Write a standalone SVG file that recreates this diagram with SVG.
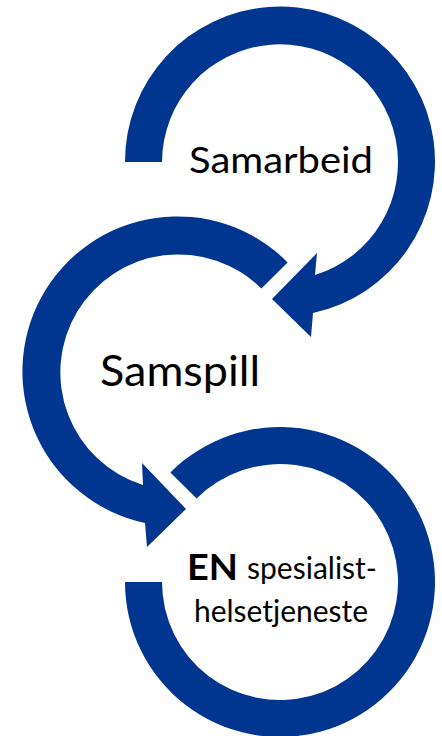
<svg xmlns="http://www.w3.org/2000/svg" width="442" height="736" viewBox="0 0 442 736">
  <style>
    .arc { fill: #00368F; stroke: none; }
    .lbl { font-family: Lato, "Open Sans", "Liberation Sans", sans-serif; fill: #000000; }
  </style>
  <rect width="442" height="736" fill="#FFFFFF"/>
  <g id="node-samarbeid">
    <path class="arc" d="M 125 162 A 155 155 0 1 1 313 313 L 311 337 L 272 299 L 317 253 L 315 275 A 118 118 0 1 0 162 162 Z"/>
    <text class="lbl" x="189" y="173" font-size="37" textLength="184" lengthAdjust="spacingAndGlyphs">Samarbeid</text>
  </g>
  <g id="node-samspill">
    <path class="arc" d="M 287.6 262.4 A 155 155 0 1 0 145 523 L 147 547 L 186 509 L 142 463 L 143 485 A 118 118 0 1 1 261.4 288.6 Z"/>
    <text class="lbl" x="100" y="386" font-size="42" textLength="160" lengthAdjust="spacingAndGlyphs">Samspill</text>
  </g>
  <g id="node-en-spesialisthelsetjeneste">
    <path class="arc" d="M 170.4 472.4 A 155 155 0 1 1 125 582 L 162 582 A 118 118 0 1 0 196.6 498.6 Z"/>
    <text class="lbl" x="187" y="580" font-size="37" font-weight="bold" textLength="51" lengthAdjust="spacingAndGlyphs">EN</text>
    <text class="lbl" x="247" y="579" font-size="30" textLength="130" lengthAdjust="spacingAndGlyphs">spesialist-</text>
    <text class="lbl" x="194" y="622" font-size="30" textLength="174" lengthAdjust="spacingAndGlyphs">helsetjeneste</text>
  </g>
  <g id="connectors"/>
</svg>
